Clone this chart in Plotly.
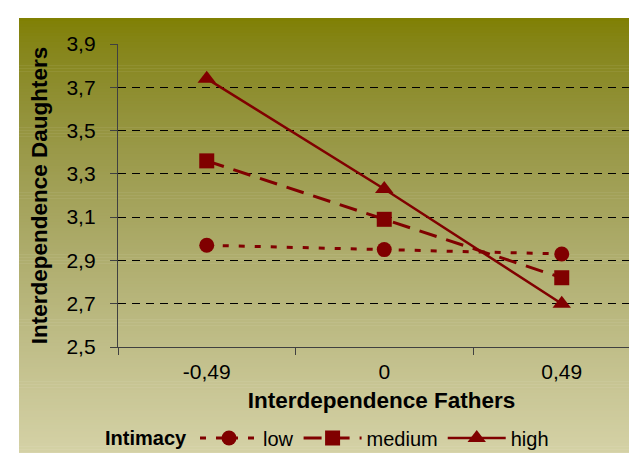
import plotly.graph_objects as go

categories = ["-0,49", "0", "0,49"]
low = [2.97, 2.95, 2.93]
medium = [3.36, 3.09, 2.82]
high = [3.74, 3.23, 2.70]
y_ticks = [2.5, 2.7, 2.9, 3.1, 3.3, 3.5, 3.7, 3.9]

W, H = 637, 453
L, R, T, B = 110, 0, 36, 114
pw, ph = W - L - R, H - T - B
FONT = "Arial, Liberation Sans, sans-serif"
RED = "#800000"

def px2x(px):
    return (px - L) / pw

def px2y(py):
    return (H - B - py) / ph

fig = go.Figure()
fig.add_trace(go.Scatter(x=categories, y=low, name="low", mode="lines+markers",
                         line=dict(color=RED, width=3, dash="6px,10px"),
                         marker=dict(symbol="circle", size=15, color=RED)))
fig.add_trace(go.Scatter(x=categories, y=medium, name="medium", mode="lines+markers",
                         line=dict(color=RED, width=3, dash="18px,10px"),
                         marker=dict(symbol="square", size=15, color=RED)))
fig.add_trace(go.Scatter(x=categories, y=high, name="high", mode="lines+markers",
                         line=dict(color=RED, width=2.5),
                         marker=dict(symbol="triangle-up", size=16, color=RED)))

# gradient background bands
shapes = []
y_top, y_bot = 10, H
n = 150
for i in range(n):
    p0 = y_top + (y_bot - y_top) * i / n
    p1 = y_top + (y_bot - y_top) * (i + 1) / n + 0.6
    t = (i + 0.5) / n
    r = 128 + (214 - 128) * t
    g = 128 + (211 - 128) * t
    b = 168 * (t ** 0.7)
    shapes.append(dict(type="rect", xref="paper", yref="paper",
                       x0=px2x(11), x1=px2x(W), y0=px2y(min(p1, H)), y1=px2y(p0),
                       fillcolor=f"rgb({r:.0f},{g:.0f},{b:.0f})",
                       line=dict(width=0), layer="below"))

fig.update_layout(
    width=W, height=H,
    margin=dict(l=L, r=R, t=T, b=B),
    paper_bgcolor="white", plot_bgcolor="rgba(0,0,0,0)",
    separators=", ",
    font=dict(family=FONT, size=21, color="black"),
    shapes=shapes,
    showlegend=True,
    legend=dict(orientation="h", x=px2x(95), xanchor="left", y=px2y(430), yanchor="middle",
                bgcolor="rgba(0,0,0,0)",
                font=dict(family=FONT, size=20, color="black"),
                title=dict(text="<b>Intimacy</b>", font=dict(family=FONT, size=20), side="left"),
                itemwidth=58, tracegroupgap=0),
)
fig.update_xaxes(
    type="category", range=[-0.5, -0.5 + pw / 177.5],
    tickson="boundaries", ticks="outside", ticklen=7, tickcolor="#404040", tickwidth=1.3,
    showgrid=False, showline=True, linecolor="#404040", linewidth=1.3,
    ticklabelstandoff=6,
    tickfont=dict(size=21),
    title=dict(text="<b>Interdependence Fathers</b>", font=dict(size=22.5), standoff=9),
)
fig.update_yaxes(
    range=[2.5, 3.9], tickvals=y_ticks, tickformat=".1f",
    ticks="outside", ticklen=7, tickcolor="#404040", tickwidth=1.3,
    showgrid=True, gridcolor="black", gridwidth=1, griddash="8px,6px",
    showline=True, linecolor="#404040", linewidth=1.3,
    zeroline=False, ticklabelstandoff=10,
    tickfont=dict(size=21),
    title=dict(text="<b>Interdependence Daughters</b>", font=dict(size=22.5), standoff=12),
)

fig.write_html("out.html")
